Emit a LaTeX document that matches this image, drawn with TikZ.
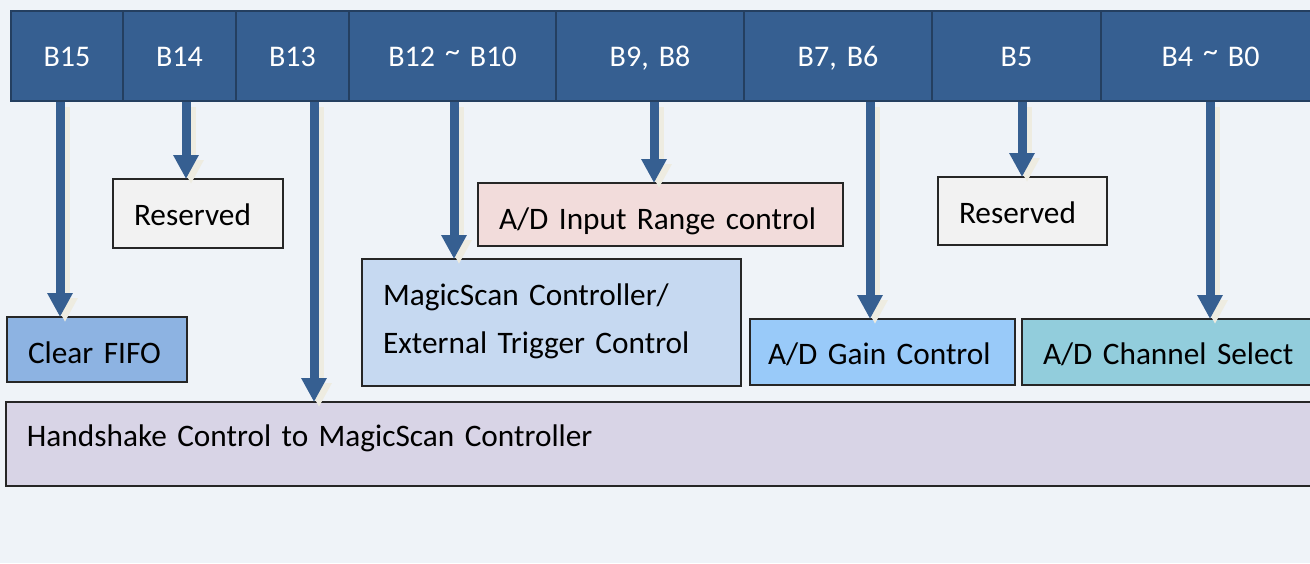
\documentclass[tikz,border=0pt]{standalone}
\usepackage{fontspec}
\setmainfont{Carlito}
\usetikzlibrary{arrows.meta}
\definecolor{bg}{HTML}{EFF3F8}
\definecolor{barfill}{HTML}{365F91}
\definecolor{barline}{HTML}{243F60}
\definecolor{shd}{HTML}{EEECE1}
\definecolor{resfill}{HTML}{F2F2F2}
\definecolor{clearfill}{HTML}{8DB3E2}
\definecolor{rangefill}{HTML}{F2DCDB}
\definecolor{magicfill}{HTML}{C6D9F1}
\definecolor{gainfill}{HTML}{99CAF9}
\definecolor{chanfill}{HTML}{92CDDC}
\definecolor{handfill}{HTML}{D8D4E6}
\newcommand{\hitilde}{\raisebox{5pt}{\textasciitilde}}
\begin{document}
\begin{tikzpicture}[x=1pt,y=-1pt,
  font=\fontsize{31.3pt}{48pt}\selectfont,
  cell/.style={fill=barfill, draw=barline, line width=2.5pt, text=white,
    anchor=north west, inner sep=0pt, outer sep=0pt, align=center,
    text height=55pt, text depth=35pt, font=\fontsize{30pt}{36pt}\selectfont},
  box/.style={draw=black!85, line width=1.8pt, anchor=north west,
    inner xsep=21pt, inner ysep=0pt, outer sep=0pt, align=left},
  arr/.style={draw=barfill, line width=9pt, -{Triangle[width=24pt,length=24pt]}},
  arrshadow/.style={draw=shd, line width=9pt, -{Triangle[width=24pt,length=24pt]},
    transform canvas={xshift=5pt,yshift=-5pt}}]
\useasboundingbox (0,0) rectangle (1310,563);
\fill[bg] (0,0) rectangle (1310,563);

% register bits
\node[cell, text width=112pt] (b15) at (11,11) {B15};
\node[cell, text width=113pt] (b14) at (123,11) {B14};
\node[cell, text width=113pt] (b13) at (236,11) {B13};
\node[cell, text width=207pt] (b12) at (349,11) {B12 \hitilde{} B10};
\node[cell, text width=188pt] (b9) at (556,11) {B9, B8};
\node[cell, text width=188pt] (b7) at (744,11) {B7, B6};
\node[cell, text width=169pt] (b5) at (932,11) {B5};
\node[cell, text width=219pt] (b4) at (1101,11) {B4 \hitilde{} B0};

% function boxes
\node[box, fill=resfill, text width=128pt, text height=46pt, text depth=23pt] (res1) at (113,179) {Reserved};
\node[box, fill=clearfill, text width=138pt, text height=46pt, text depth=19pt] (clear) at (7,317) {Clear FIFO};
\node[box, fill=rangefill, text width=323pt, text height=46pt, text depth=17pt] (range) at (478,183) {A/D Input Range control};
\node[box, fill=magicfill, text width=337pt, text height=46pt, text depth=81pt] (magic) at (362,259) {MagicScan Controller/\\External Trigger Control};
\node[box, fill=resfill, text width=127pt, text height=46pt, text depth=22pt] (res2) at (938,177) {Reserved};
\node[box, fill=gainfill, inner xsep=18pt, text width=229pt, text height=45pt, text depth=21pt] (gain) at (750,319) {A/D Gain Control};
\node[box, fill=chanfill, text width=256pt, text height=45pt, text depth=21pt] (chan) at (1022,319) {A/D Channel Select};
\node[box, fill=handfill, text width=1272pt, text height=44pt, text depth=40pt] (hand) at (6,402) {Handshake Control to MagicScan Controller};

% arrow start points
\coordinate (a15) at ([xshift=-7pt,yshift=-1.2pt]b15.south);
\coordinate (a14) at ([xshift=6.5pt,yshift=-1.2pt]b14.south);
\coordinate (a13) at ([xshift=21.5pt,yshift=-1.2pt]b13.south);
\coordinate (a12) at ([xshift=1.5pt,yshift=-1.2pt]b12.south);
\coordinate (a9) at ([xshift=4pt,yshift=-1.2pt]b9.south);
\coordinate (a7) at ([xshift=32pt,yshift=-1.2pt]b7.south);
\coordinate (a5) at ([xshift=5.5pt,yshift=-1.2pt]b5.south);
\coordinate (a4) at ([xshift=-0.5pt,yshift=-1.2pt]b4.south);

% shadows
\draw[arrshadow] (a15) -- (a15 |- clear.north);
\draw[arrshadow] (a14) -- (a14 |- res1.north);
\draw[arrshadow] (a13) -- (a13 |- hand.north);
\draw[arrshadow] (a12) -- (a12 |- magic.north);
\draw[arrshadow] (a9) -- (a9 |- range.north);
\draw[arrshadow] (a7) -- (a7 |- gain.north);
\draw[arrshadow] (a5) -- (a5 |- res2.north);
\draw[arrshadow] (a4) -- (a4 |- chan.north);

% arrows
\draw[arr] (a15) -- (a15 |- clear.north);
\draw[arr] (a14) -- (a14 |- res1.north);
\draw[arr] (a13) -- (a13 |- hand.north);
\draw[arr] (a12) -- (a12 |- magic.north);
\draw[arr] (a9) -- (a9 |- range.north);
\draw[arr] (a7) -- (a7 |- gain.north);
\draw[arr] (a5) -- (a5 |- res2.north);
\draw[arr] (a4) -- (a4 |- chan.north);
\end{tikzpicture}
\end{document}
